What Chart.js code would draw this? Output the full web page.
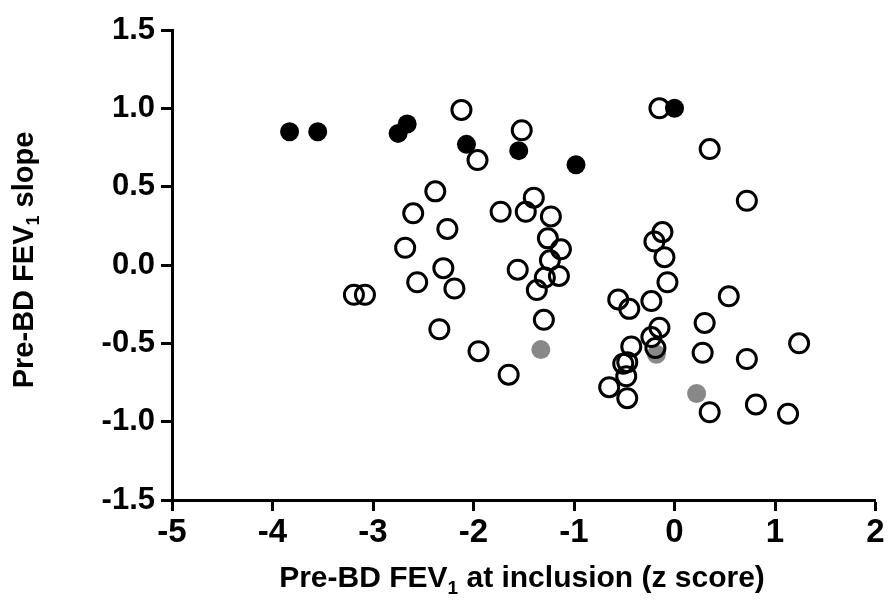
<!DOCTYPE html>
<html>
<head>
<meta charset="utf-8">
<script src="https://cdn.jsdelivr.net/npm/chart.js@4.4.1/dist/chart.umd.min.js"></script>
<style>
  body { margin: 0; background: #fff; }
  #chart { display: block; background: #fff; }
</style>
</head>
<body>
<canvas id="chart" width="888" height="605"></canvas>
<script>
// open circles
const openX = [-2.12, -0.15, -1.52, -1.96, 0.35, 0.72, -2.38, -1.40, -1.73, -1.48,
    -2.60, -1.23, -2.26, -1.26, -0.12, -0.20, -2.68, -1.13, -0.10, -1.24,
    -2.30, -1.56, -2.56, -1.29, -1.15, -0.07, -3.19, -3.08, -2.19, -1.37,
    -0.56, -0.23, -0.45, 0.54, 0.30, -1.30, -2.34, -0.15, -1.95, -0.23,
    -0.43, -0.19, 0.28, 0.72, 1.24, -0.51, -0.47, -0.48, -1.65, -0.65,
    -0.47, 0.81, 0.35, 1.13]
const openY = [0.99, 1.00, 0.86, 0.67, 0.74, 0.41, 0.47, 0.43, 0.34, 0.34,
    0.33, 0.31, 0.23, 0.17, 0.21, 0.15, 0.11, 0.10, 0.05, 0.03,
    -0.02, -0.03, -0.11, -0.08, -0.07, -0.11, -0.19, -0.19, -0.15, -0.16,
    -0.22, -0.23, -0.28, -0.20, -0.37, -0.35, -0.41, -0.40, -0.55, -0.46,
    -0.52, -0.53, -0.56, -0.60, -0.50, -0.63, -0.62, -0.71, -0.70, -0.78,
    -0.85, -0.89, -0.94, -0.95]

// filled black circles
const filledX = [-3.83, -3.55, -2.66, -2.75, -2.07, -1.55, -0.98, 0.00]
const filledY = [0.85, 0.85, 0.90, 0.84, 0.77, 0.73, 0.64, 1.00]

// filled grey circles
const greyX = [-1.33, -0.18, 0.22]
const greyY = [-0.54, -0.57, -0.82]

const xTicks = [-5, -4, -3, -2, -1, 0, 1, 2]
const yTicks = [-1.5, -1.0, -0.5, 0.0, 0.5, 1.0, 1.5]

const xTitleParts = [{ text: 'Pre-BD FEV' }, { text: '1', sub: true }, { text: ' at inclusion (z score)' }]
const yTitleParts = [{ text: 'Pre-BD FEV' }, { text: '1', sub: true }, { text: ' slope' }]

function toPoints(xs, ys) {
    return xs.map((x, i) => ({ x: x, y: ys[i] }))
}

// draws a title that has a subscript in it, centred on (cx, cy)
function drawTitle(ctx, parts, cx, cy, angle, size) {
    const family = '"Liberation Sans", Arial, sans-serif'
    const subSize = Math.round(size * 0.62)
    ctx.save()
    ctx.translate(cx, cy)
    ctx.rotate(angle)
    ctx.fillStyle = '#000'
    ctx.textBaseline = 'alphabetic'
    ctx.textAlign = 'left'
    let total = 0
    parts.forEach(p => {
        ctx.font = 'bold ' + (p.sub ? subSize : size) + 'px ' + family
        total += ctx.measureText(p.text).width
    })
    let x = -total / 2
    parts.forEach(p => {
        ctx.font = 'bold ' + (p.sub ? subSize : size) + 'px ' + family
        ctx.fillText(p.text, x, p.sub ? size * 0.22 : 0)
        x += ctx.measureText(p.text).width
    })
    ctx.restore()
}

const titlePlugin = {
    id: 'axisTitles',
    afterDraw(chart) {
        const ctx = chart.ctx
        drawTitle(ctx, xTitleParts, 522, 587, 0, 30)
        drawTitle(ctx, yTitleParts, 33, 260, -Math.PI / 2, 29)
    }
}

const axisLine = {
    display: true,
    drawOnChartArea: false,
    drawTicks: true,
    tickLength: 11,
    tickWidth: 3,
    color: '#000'
}

new Chart(document.getElementById('chart'), {
    type: 'scatter',
    data: {
        datasets: [
            {
                data: toPoints(filledX, filledY),
                backgroundColor: '#000',
                borderWidth: 0,
                pointRadius: 9.5,
                order: 0
            },
            {
                data: toPoints(openX, openY),
                backgroundColor: 'rgba(0,0,0,0)',
                borderColor: '#000',
                borderWidth: 3,
                pointRadius: 9.5,
                order: 1
            },
            {
                data: toPoints(greyX, greyY),
                backgroundColor: '#888888',
                borderWidth: 0,
                pointRadius: 9.5,
                order: 2
            }
        ]
    },
    options: {
        responsive: false,
        animation: false,
        devicePixelRatio: 1,
        clip: false,
        layout: { padding: { top: 30, right: 9, left: 0, bottom: 0 } },
        plugins: {
            legend: { display: false },
            tooltip: { enabled: false }
        },
        scales: {
            x: {
                type: 'linear',
                min: -5,
                max: 2,
                afterBuildTicks: s => { s.ticks = xTicks.map(v => ({ value: v })) },
                afterFit: s => { s.height = 105 },
                ticks: {
                    color: '#000',
                    padding: 2,
                    font: { family: '"Liberation Sans Narrow", "Liberation Sans", Arial', size: 33, weight: 'bold' },
                    callback: v => String(v)
                },
                grid: axisLine,
                border: { display: true, width: 3, color: '#000' }
            },
            y: {
                type: 'linear',
                min: -1.5,
                max: 1.5,
                afterBuildTicks: s => { s.ticks = yTicks.map(v => ({ value: v })) },
                afterFit: s => { s.width = 172 },
                ticks: {
                    color: '#000',
                    padding: 6,
                    font: { family: '"Liberation Sans", Arial', size: 31, weight: 'bold' },
                    callback: v => v.toFixed(1)
                },
                grid: axisLine,
                border: { display: true, width: 3, color: '#000' }
            }
        }
    },
    plugins: [titlePlugin]
})
</script>
</body>
</html>
